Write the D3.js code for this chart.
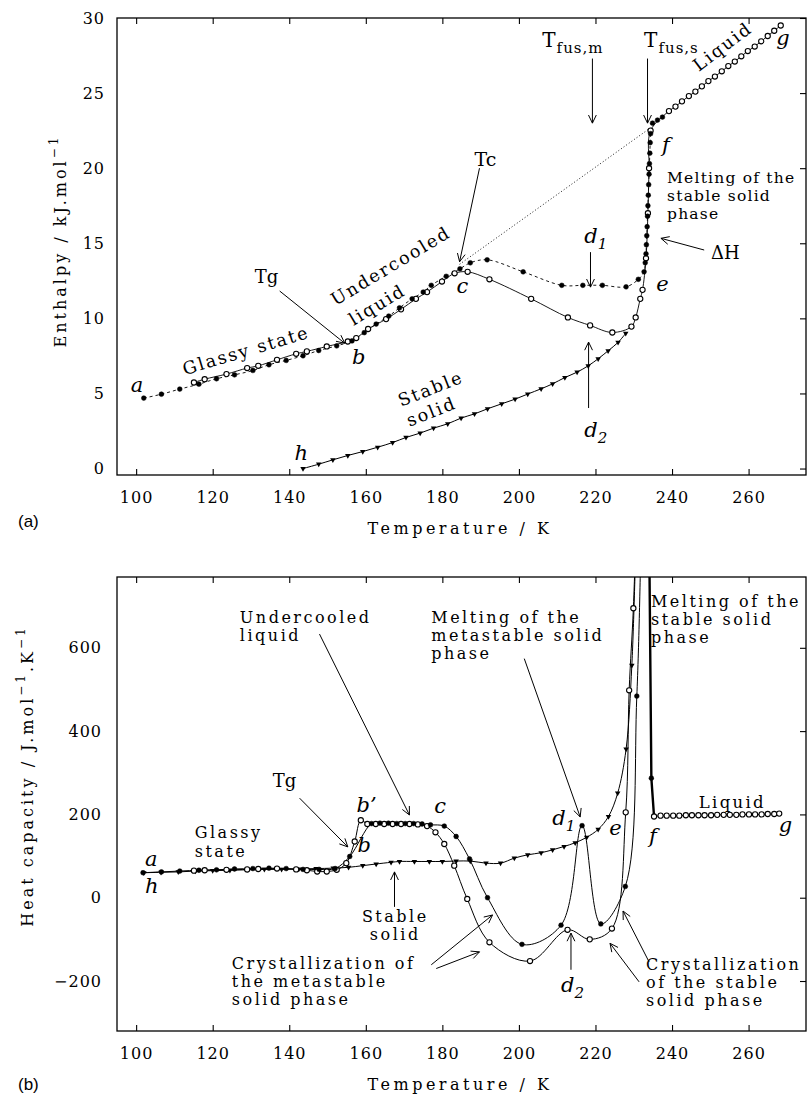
<!DOCTYPE html>
<html>
<head>
<meta charset="utf-8">
<script src="https://cdn.jsdelivr.net/npm/d3@7"></script>
<style>
  body { margin: 0; background: #fff; }
  svg { display: block; }
</style>
</head>
<body>
<script>
// ---------- shared ----------
var tempTicks = [100, 120, 140, 160, 180, 200, 220, 240, 260];
var enthalpyTicks = [0, 5, 10, 15, 20, 25, 30];
var cpTicks = [-200, 0, 200, 400, 600];

// ---------- panel (a): enthalpy, kJ/mol ----------
// filled circles (dashed line): glassy -> undercooled -> c -> d1 -> e -> melting
var aFilledT = [102.0,106.6,111.4,116.4,121.0,125.7,130.5,134.7,139.2,143.6,147.7,152.4,156.4,159.6,162.7,166.0,168.8,172.1,175.0,177.1,181.0,184.6,
                187.3,191.7,201.1,211.2,216.7,221.8,228.0,231.2,
                232.7,233.0,233.2,233.3,233.4,233.5,233.6,233.7,233.8,233.9,234.0,234.1,234.2,234.3,234.4,
                234.9,236.2,237.5];
var aFilledH = [4.69,4.95,5.29,5.62,5.98,6.24,6.53,6.91,7.20,7.51,7.86,8.17,8.50,9.05,9.62,10.15,10.70,11.30,11.75,12.20,12.80,13.30,
                13.70,13.90,13.10,12.20,12.20,12.20,12.10,12.60,
                13.10,13.70,14.30,14.90,15.50,16.10,16.80,17.50,18.20,18.90,19.60,20.30,21.00,21.70,22.30,
                23.00,23.20,23.40];
// open circles (solid line): glassy -> undercooled -> c -> d2 -> stable solid -> melting
var aOpenT = [115.1,117.9,123.6,129.0,131.9,136.8,141.8,144.6,149.8,155.3,157.5,160.6,165.3,169.2,173.1,176.0,179.9,183.2,
              186.6,192.3,203.2,212.8,218.6,224.4,229.4,230.5,231.7,232.3,233.2,233.7,234.0,234.4];
var aOpenH = [5.73,5.95,6.29,6.69,6.84,7.24,7.64,7.80,8.13,8.46,8.69,9.29,9.95,10.60,11.30,11.75,12.45,13.00,
              13.10,12.60,11.30,10.06,9.53,9.06,9.45,10.06,11.30,11.90,14.00,17.00,20.00,22.50];
// liquid (open circles)
var aLiquidT = [239.2,240.9,242.6,244.4,246.1,247.8,249.5,251.2,253.0,254.7,256.4,258.1,259.8,261.6,263.3,265.0,266.7,268.4];
var aLiquidH = [23.80,24.10,24.45,24.80,25.10,25.45,25.80,26.10,26.45,26.80,27.10,27.45,27.80,28.10,28.45,28.80,29.15,29.50];
// stable solid (down triangles)
var aSolidT = [143.6,147.7,151.4,155.3,159.2,163.1,167.0,170.5,174.2,177.7,181.4,184.9,188.4,191.8,195.5,199.0,202.3,205.8,208.8,212.0,215.2,218.1,220.7,223.3,225.9,227.9];
var aSolidH = [0.00,0.29,0.58,0.87,1.13,1.42,1.73,2.07,2.36,2.69,2.98,3.36,3.64,3.98,4.31,4.62,4.96,5.31,5.64,6.06,6.42,6.84,7.31,7.84,8.40,9.00];
// liquid extrapolation (dotted) from Tc to f
var aExtraT = [184.5, 233.9];
var aExtraH = [13.6, 22.6];

// ---------- panel (b): heat capacity, J/mol/K ----------
var bFilledT = [101.8,106.6,111.4,116.4,121.0,125.7,130.5,134.7,139.2,143.6,147.8,152.0,155.8,
                161.5,163.7,165.9,168.1,170.3,172.5,174.7,176.9,180.5,183.6,187.1,191.8,200.8,211.0,216.5,221.4,227.8,230.8,231.8];
var bFilledCp = [60,62,64,66,67,69,70,71,70,68,68,70,99,
                 178,179,179,178,178,178,177,175,172,147,93,0,-112,-66,173,-63,27,484,820];
var bOpenT = [115.1,117.9,123.6,129.0,131.9,136.8,141.8,144.6,147.3,149.8,152.4,154.9,157.1,158.7,
              160.4,162.6,164.8,167.0,169.2,171.4,173.6,176.0,178.2,180.5,183.1,186.5,192.3,202.9,212.7,218.5,224.3,227.9,228.8,229.9,230.8];
var bOpenCp = [65,66,67,68,69,70,68,66,63,63,67,83,135,186,
               177,177,177,177,177,177,176,172,157,129,77,-3,-107,-152,-77,-100,-74,205,498,695,950];
var bSolidT = [102.0,106.5,111.0,115.5,120.0,124.5,129.0,133.5,138.0,142.5,147.0,151.5,155.5,159.2,162.7,166.6,168.8,172.7,176.6,180.0,183.6,187.3,
               191.4,195.2,198.8,202.3,205.8,208.8,211.8,214.7,217.7,220.7,223.4,225.8,228.0,229.5,230.4];
var bSolidCp = [60,61,62,64,65,66,67,68,68,69,70,71,73,77,81,85,87,87,87,87,88,88,
                83,83,95,103,108,115,123,132,145,164,195,251,357,558,800];
// melting of the stable solid (thick spike); only the 234.6 K point is a plotted marker
var bMeltT = [233.9, 234.2, 234.6, 235.3];
var bMeltCp = [1000, 700, 287, 195];
var bMeltMarkT = [234.6];
var bMeltMarkCp = [287];
// liquid (open circles)
var bLiquidT = [235.3,237.0,238.6,240.3,241.9,243.6,245.2,246.9,248.5,250.2,251.8,253.5,255.1,256.8,258.4,260.1,261.7,263.4,265.0,266.7,268.0];
var bLiquidCp = [195,197,197,197,197,198,198,198,198,198,199,199,199,199,200,200,200,200,201,201,202];

// ---------- drawing ----------
var serif = "'DejaVu Serif', serif";
var svg = d3.select("body").append("svg").attr("width", 808).attr("height", 1097);

var x = d3.scaleLinear().domain([95, 275]).range([117, 806]);
var yA = d3.scaleLinear().domain([-0.43, 30]).range([475, 18]);
var yB = d3.scaleLinear().domain([-320, 770]).range([1031, 577]);

function zip(t, v) { return t.map(function(d, i) { return [d, v[i]]; }); }

function frame(y, ticks, pad, id) {
  var top = y.range()[1], bottom = y.range()[0], left = x.range()[0], right = x.range()[1];
  svg.append("clipPath").attr("id", id).append("rect")
    .attr("x", left).attr("y", top).attr("width", right - left).attr("height", bottom - top);

  var axes = [
    svg.append("g").attr("transform", "translate(0," + bottom + ")")
      .call(d3.axisBottom(x).tickValues(tempTicks).tickSizeInner(-6).tickSizeOuter(0).tickPadding(17)),
    svg.append("g").attr("transform", "translate(0," + top + ")")
      .call(d3.axisTop(x).tickValues(tempTicks).tickSizeInner(-6).tickSizeOuter(0).tickFormat("")),
    svg.append("g").attr("transform", "translate(" + left + ",0)")
      .call(d3.axisLeft(y).tickValues(ticks).tickSizeInner(0).tickSizeOuter(0).tickPadding(pad)),
    svg.append("g").attr("transform", "translate(" + right + ",0)")
      .call(d3.axisRight(y).tickValues(ticks).tickSizeInner(-6).tickSizeOuter(0).tickFormat(""))
  ];
  axes.forEach(function(a) {
    a.select(".domain").remove();
    a.attr("font-family", serif).attr("font-size", 16);
    a.selectAll("text").attr("letter-spacing", 1).attr("fill", "#000");
    a.selectAll("line").attr("stroke-width", 1.1);
  });

  svg.append("rect").attr("x", left).attr("y", top)
    .attr("width", right - left).attr("height", bottom - top)
    .attr("fill", "none").attr("stroke", "#000").attr("stroke-width", 1.3);
}

function curve(y, id, T, V, width, dash, straight) {
  var line = d3.line()
    .x(function(d) { return x(d[0]); })
    .y(function(d) { return y(d[1]); })
    .curve(straight ? d3.curveLinear : d3.curveCatmullRom.alpha(0.5));
  svg.append("path").datum(zip(T, V))
    .attr("clip-path", "url(#" + id + ")")
    .attr("d", line)
    .attr("fill", "none").attr("stroke", "#000")
    .attr("stroke-width", width).attr("stroke-dasharray", dash || null);
}

function marks(y, id, T, V, kind) {
  var g = svg.append("g").attr("clip-path", "url(#" + id + ")");
  var pts = zip(T, V);
  if (kind === "tri") {
    g.selectAll("path").data(pts).enter().append("path")
      .attr("d", d3.symbol().type(d3.symbolTriangle).size(13))
      .attr("transform", function(d) { return "translate(" + x(d[0]) + "," + y(d[1]) + ") rotate(180)"; })
      .attr("fill", "#000");
  } else {
    g.selectAll("circle").data(pts).enter().append("circle")
      .attr("cx", function(d) { return x(d[0]); })
      .attr("cy", function(d) { return y(d[1]); })
      .attr("r", kind === "open" ? 2.6 : 2.4)
      .attr("fill", kind === "open" ? "#fff" : "#000")
      .attr("stroke", "#000").attr("stroke-width", kind === "open" ? 1.1 : 0.5);
  }
}

function arrow(y, T1, V1, T2, V2) {
  var x1 = x(T1), y1 = y(V1), x2 = x(T2), y2 = y(V2);
  var a = Math.atan2(y2 - y1, x2 - x1), L = 9, w = 0.45;
  svg.append("path")
    .attr("d", "M" + x1 + "," + y1 + "L" + x2 + "," + y2 +
      "M" + (x2 - L * Math.cos(a - w)) + "," + (y2 - L * Math.sin(a - w)) + "L" + x2 + "," + y2 +
      "L" + (x2 - L * Math.cos(a + w)) + "," + (y2 - L * Math.sin(a + w)))
    .attr("fill", "none").attr("stroke", "#000").attr("stroke-width", 1);
}

// o: size, ls, italic, rot, lh, sub, anchor
function label(y, T, V, lines, o) {
  o = o || {};
  if (typeof lines === "string") lines = [lines];
  var t = svg.append("text")
    .attr("transform", "translate(" + x(T) + "," + y(V) + ")" + (o.rot ? " rotate(" + o.rot + ")" : ""))
    .attr("font-family", serif).attr("font-size", o.size || 17)
    .attr("letter-spacing", o.ls || 0)
    .attr("font-style", o.italic ? "italic" : "normal")
    .attr("text-anchor", o.anchor || "start")
    .attr("fill", "#000");
  lines.forEach(function(s, i) {
    t.append("tspan").attr("x", 0).attr("y", i * (o.lh || 17)).text(s);
  });
  if (o.sub) {
    t.append("tspan").attr("dy", o.subDy || 6).attr("font-size", o.subSize || 13).text(o.sub);
  }
  return t;
}

// ===== panel (a) =====
frame(yA, enthalpyTicks, 12, "clipA");
curve(yA, "clipA", aExtraT, aExtraH, 0.9, "1,2.2", true);
curve(yA, "clipA", aSolidT, aSolidH, 1);
curve(yA, "clipA", aOpenT.concat(aLiquidT), aOpenH.concat(aLiquidH), 0.9);
curve(yA, "clipA", aFilledT, aFilledH, 0.9, "3,3");
marks(yA, "clipA", aSolidT, aSolidH, "tri");
marks(yA, "clipA", aOpenT, aOpenH, "open");
marks(yA, "clipA", aLiquidT, aLiquidH, "open");
marks(yA, "clipA", aFilledT, aFilledH, "filled");

label(yA, 206.1, 28.08, "T", { size: 20, sub: "fus,m", subSize: 15, subDy: 6, ls: 1 });
label(yA, 232.7, 28.08, "T", { size: 20, sub: "fus,s", subSize: 15, subDy: 6, ls: 1 });
arrow(yA, 219.2, 27.3, 219.2, 23.0);
arrow(yA, 233.6, 27.3, 233.6, 23.0);
label(yA, 247.0, 26.4, "Liquid", { size: 17.5, ls: 2, rot: -37 });
label(yA, 267.2, 28.2, "g", { size: 21, italic: true });
label(yA, 237.4, 21.07, "f", { size: 21, italic: true });
label(yA, 188.4, 20.14, "Tc", { size: 19 });
arrow(yA, 189.7, 20.0, 184.5, 13.77);
label(yA, 238.7, 19.0, ["Melting of the", "stable solid", "phase"], { size: 15.5, ls: 1.2, lh: 18 });
label(yA, 131.0, 12.35, "Tg", { size: 18 });
arrow(yA, 137.5, 11.82, 154.5, 8.34);
label(yA, 152.1, 10.82, "Undercooled", { size: 17.5, ls: 2, rot: -31 });
label(yA, 156.8, 9.49, "liquid", { size: 17.5, ls: 2, rot: -31 });
label(yA, 112.7, 6.22, "Glassy state", { size: 17.5, ls: 2, rot: -16.7 });
label(yA, 98.6, 5.09, "a", { size: 21, italic: true });
label(yA, 156.4, 6.96, "b", { size: 21, italic: true });
label(yA, 183.7, 11.68, "c", { size: 21, italic: true });
label(yA, 235.9, 11.82, "e", { size: 21, italic: true });
label(yA, 141.4, 0.57, "h", { size: 21, italic: true });
label(yA, 217.1, 15.01, "d", { size: 21, italic: true, sub: "1", subSize: 15 });
arrow(yA, 218.7, 14.41, 218.7, 12.08);
label(yA, 250.2, 13.95, "\u0394H", { size: 18 });
arrow(yA, 248.4, 14.55, 237.1, 15.33);
label(yA, 169.2, 4.11, "Stable", { size: 17.5, ls: 2, rot: -21.5 });
label(yA, 171.4, 2.78, "solid", { size: 17.5, ls: 2, rot: -21.5 });
label(yA, 217.1, 2.1, "d", { size: 21, italic: true, sub: "2", subSize: 15 });
arrow(yA, 218.2, 4.03, 218.2, 8.42);

svg.append("text").attr("x", 460).attr("y", 534).attr("text-anchor", "middle")
  .attr("font-family", serif).attr("font-size", 16).attr("letter-spacing", 3.5)
  .text("Temperature / K");
var ta = svg.append("text").attr("transform", "translate(66,241) rotate(-90)")
  .attr("text-anchor", "middle").attr("font-family", serif).attr("font-size", 16).attr("letter-spacing", 3);
ta.append("tspan").text("Enthalpy / kJ.mol");
ta.append("tspan").attr("dy", -8).attr("font-size", 12).text("\u22121");
svg.append("text").attr("x", 18).attr("y", 527).attr("font-family", "'Liberation Sans', Arial, sans-serif")
  .attr("font-size", 17).text("(a)");

// ===== panel (b) =====
frame(yB, cpTicks, 15, "clipB");
curve(yB, "clipB", bSolidT, bSolidCp, 1);
curve(yB, "clipB", bOpenT, bOpenCp, 1);
curve(yB, "clipB", bFilledT, bFilledCp, 1);
curve(yB, "clipB", bMeltT, bMeltCp, 2.4, null, true);
curve(yB, "clipB", bLiquidT, bLiquidCp, 1);
marks(yB, "clipB", bSolidT, bSolidCp, "tri");
marks(yB, "clipB", bOpenT, bOpenCp, "open");
marks(yB, "clipB", bLiquidT, bLiquidCp, "open");
marks(yB, "clipB", bFilledT, bFilledCp, "filled");
marks(yB, "clipB", bMeltMarkT, bMeltMarkCp, "filled");

var blockB = { size: 16, ls: 2.5, lh: 18 };
label(yB, 127.1, 659, ["Undercooled", "liquid"], blockB);
arrow(yB, 147.9, 633, 171.4, 198.6);
label(yB, 177.1, 659, ["Melting of the", "metastable solid", "phase"], blockB);
arrow(yB, 201.4, 574, 216.0, 194);
label(yB, 234.5, 697, ["Melting of the", "stable solid", "phase"], blockB);
label(yB, 135.7, 266, "Tg", { size: 18 });
arrow(yB, 142.7, 239, 155.3, 122);
label(yB, 157.6, 206, "b\u2019", { size: 21, italic: true });
label(yB, 157.8, 110, "b", { size: 21, italic: true });
label(yB, 177.9, 203, "c", { size: 21, italic: true });
label(yB, 102.3, 76, "a", { size: 21, italic: true });
label(yB, 102.3, 11.5, "h", { size: 21, italic: true });
label(yB, 223.6, 150.5, "e", { size: 21, italic: true });
label(yB, 234.0, 131, "f", { size: 21, italic: true });
label(yB, 267.9, 158, "g", { size: 21, italic: true });
label(yB, 208.7, 174.5, "d", { size: 21, italic: true, sub: "1", subSize: 15 });
label(yB, 115.3, 143, ["Glassy", "state"], { size: 16, ls: 2.5, lh: 19 });
label(yB, 167.7, -58, ["Stable", "solid"], { size: 16, ls: 2.5, lh: 18, anchor: "middle" });
arrow(yB, 167.5, -22, 167.5, 62);
label(yB, 247.0, 215, "Liquid", { size: 16.5, ls: 2.3 });
label(yB, 211.0, -226, "d", { size: 21, italic: true, sub: "2", subSize: 15 });
arrow(yB, 213.6, -173, 213.6, -85);
label(yB, 125.0, -172, ["Crystallization of", "the metastable", "solid phase"], blockB);
arrow(yB, 177.1, -161, 193.1, -41.5);
arrow(yB, 178.4, -170, 189.7, -130);
label(yB, 233.2, -174, ["Crystallization", "of the stable", "solid phase"], blockB);
arrow(yB, 231.4, -202, 223.8, -109.5);
arrow(yB, 234.0, -154, 227.2, -32);

svg.append("text").attr("x", 460).attr("y", 1090).attr("text-anchor", "middle")
  .attr("font-family", serif).attr("font-size", 16).attr("letter-spacing", 3.5)
  .text("Temperature / K");
var tb = svg.append("text").attr("transform", "translate(33,776) rotate(-90)")
  .attr("text-anchor", "middle").attr("font-family", serif).attr("font-size", 16).attr("letter-spacing", 3);
tb.append("tspan").text("Heat capacity / J.mol");
tb.append("tspan").attr("dy", -8).attr("font-size", 12).text("\u22121");
tb.append("tspan").attr("dy", 8).text(".K");
tb.append("tspan").attr("dy", -8).attr("font-size", 12).text("\u22121");
svg.append("text").attr("x", 18).attr("y", 1090).attr("font-family", "'Liberation Sans', Arial, sans-serif")
  .attr("font-size", 17).text("(b)");
</script>
</body>
</html>
